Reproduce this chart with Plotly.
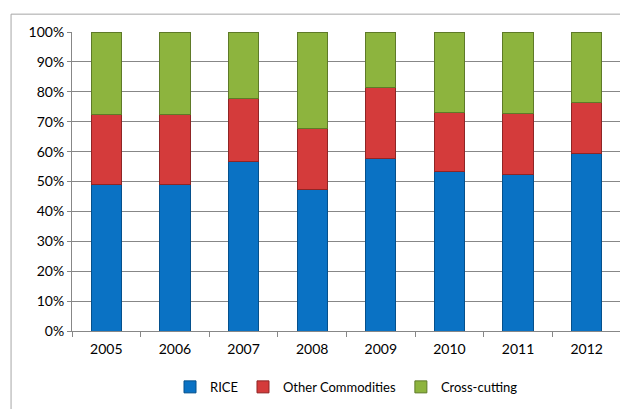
import plotly.graph_objects as go

years = ["2005", "2006", "2007", "2008", "2009", "2010", "2011", "2012"]
rice = [48.9, 48.9, 56.7, 47.2, 57.8, 53.3, 52.3, 59.5]
other = [23.5, 23.5, 21.1, 20.5, 23.5, 19.7, 20.4, 16.8]
cross = [27.6, 27.6, 22.2, 32.3, 18.7, 27.0, 27.3, 23.7]
y_ticks = [0, 10, 20, 30, 40, 50, 60, 70, 80, 90, 100]

series = [
    ("RICE", rice, "#0A72C4", "#05508c"),
    ("Other Commodities", other, "#D43B3B", "#8f2525"),
    ("Cross-cutting", cross, "#8DB43E", "#5e7a28"),
]

fig = go.Figure()
for name, vals, col, edge in series:
    fig.add_trace(go.Bar(
        x=years, y=vals, name=name,
        marker=dict(color=col, line=dict(color=edge, width=1)),
    ))

fig.update_layout(
    barmode="stack",
    bargap=0.56,
    width=620, height=401,
    margin=dict(l=64, r=7, t=24, b=76),
    paper_bgcolor="white",
    plot_bgcolor="white",
    font=dict(family="Lato, Open Sans, sans-serif", size=14, color="#000000"),
    showlegend=True,
    legend=dict(
        orientation="h", x=0.5, xanchor="center", y=-0.187, yanchor="middle",
        font=dict(size=13), itemwidth=30, traceorder="normal",
    ),
    shapes=[dict(
        type="rect", xref="paper", yref="paper",
        x0=-0.111, x1=1.2, y0=-0.5, y1=1.0597,
        line=dict(color="#a6a6a6", width=1), fillcolor="rgba(0,0,0,0)",
        layer="below",
    )],
)
fig.update_xaxes(
    type="category", showline=True, linecolor="#878787", linewidth=1,
    ticks="outside", ticklen=5, tickcolor="#878787", tickson="boundaries",
    showgrid=False, ticklabelstandoff=5,
)
fig.update_yaxes(
    range=[0, 100], tickvals=y_ticks, ticktext=[f"{v}%" for v in y_ticks],
    showgrid=True, gridcolor="#878787", gridwidth=1,
    showline=True, linecolor="#878787", linewidth=1,
    ticks="outside", ticklen=4, tickcolor="#878787", zeroline=False,
)

fig.write_html("out.html")
